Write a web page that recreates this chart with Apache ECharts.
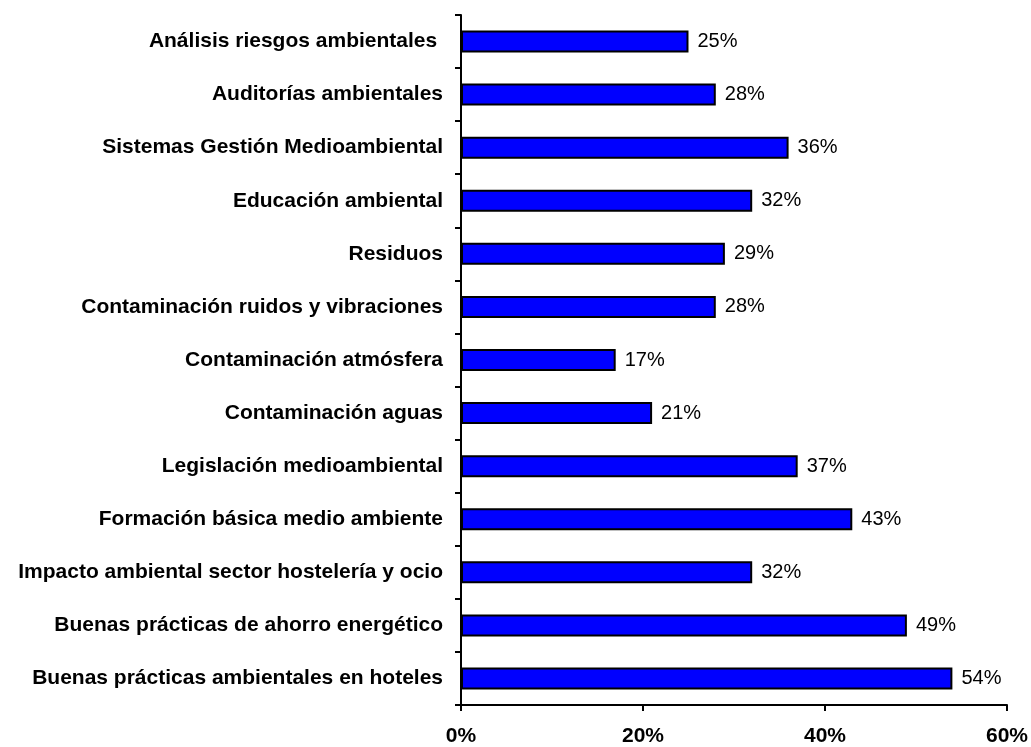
<!DOCTYPE html>
<html>
<head>
<meta charset="utf-8">
<script src="https://cdn.jsdelivr.net/npm/echarts@6/dist/echarts.min.js"></script>
<style>
  html, body { margin: 0; padding: 0; background: #fff; }
  #chart { width: 1031px; height: 747px; }
</style>
</head>
<body>
<div id="chart"></div>
<script>
// Topics, listed top to bottom as they appear on the chart
const categories = [
  'Análisis riesgos ambientales ',
  'Auditorías ambientales',
  'Sistemas Gestión Medioambiental',
  'Educación ambiental',
  'Residuos',
  'Contaminación ruidos y vibraciones',
  'Contaminación atmósfera',
  'Contaminación aguas',
  'Legislación medioambiental',
  'Formación básica medio ambiente',
  'Impacto ambiental sector hostelería y ocio',
  'Buenas prácticas de ahorro energético',
  'Buenas prácticas ambientales en hoteles'
];
// Share of respondents per topic (%)
const values = [25, 28, 36, 32, 29, 28, 17, 21, 37, 43, 32, 49, 54];
// Percentage axis
const xTicks = [0, 20, 40, 60];

const FONT = 'Liberation Sans, Arial, sans-serif';

const chart = echarts.init(document.getElementById('chart'));
chart.setOption({
  animation: false,
  grid: { left: 461, right: 24, top: 15, bottom: 40, containLabel: false },
  xAxis: {
    type: 'value',
    min: xTicks[0],
    max: xTicks[xTicks.length - 1],
    interval: xTicks[1] - xTicks[0],
    splitLine: { show: false },
    axisLine: { show: true, lineStyle: { color: '#000', width: 2 } },
    axisTick: { show: true, length: 6, lineStyle: { color: '#000', width: 2 } },
    axisLabel: {
      formatter: '{value}%',
      color: '#000',
      fontFamily: FONT,
      fontWeight: 'bold',
      fontSize: 21,
      margin: 21
    }
  },
  yAxis: {
    type: 'category',
    data: categories,
    inverse: true,
    axisLine: { show: true, lineStyle: { color: '#000', width: 2 } },
    axisTick: { show: true, length: 6, lineStyle: { color: '#000', width: 2 } },
    axisLabel: {
      color: '#000',
      fontFamily: FONT,
      fontWeight: 'bold',
      fontSize: 21,
      margin: 18
    }
  },
  series: [{
    type: 'bar',
    data: values,
    barWidth: 22,
    itemStyle: { color: '#0000FF', borderColor: '#000', borderWidth: 2 },
    label: {
      show: true,
      position: 'right',
      distance: 9,
      formatter: '{c}%',
      color: '#000',
      fontFamily: FONT,
      fontSize: 20
    }
  }]
});
</script>
</body>
</html>
